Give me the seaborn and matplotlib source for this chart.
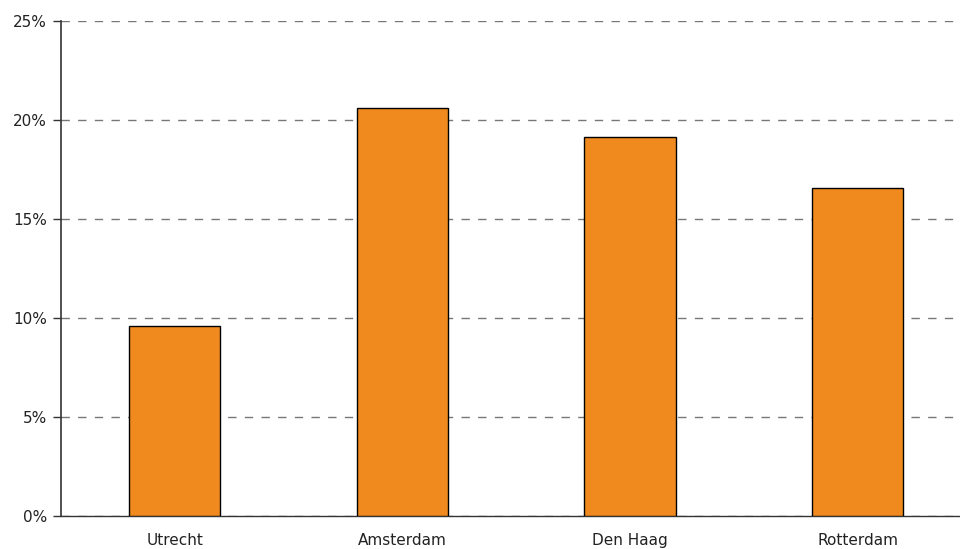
import matplotlib
matplotlib.use("Agg")
import matplotlib.pyplot as plt
import seaborn as sns
import pandas as pd
from matplotlib.ticker import FuncFormatter

cities = ["Utrecht", "Amsterdam", "Den Haag", "Rotterdam"]
share_pct = [9.6, 20.6, 19.15, 16.55]
y_ticks = [0, 5, 10, 15, 20, 25]

df = pd.DataFrame({"city": cities, "share": share_pct})

sns.set_theme(style="white")
plt.rcParams["font.family"] = ["DejaVu Sans"]

fig = plt.figure(figsize=(9.6, 5.49), dpi=100)
ax = fig.add_axes([61 / 960, 1 - 516 / 549, 1 - 61 / 960, (516 - 21) / 549])

sns.barplot(data=df, x="city", y="share", color="#F0891E", saturation=1,
            width=0.4, edgecolor="black", linewidth=1, ax=ax, zorder=3)

ax.set_ylim(0, 25)
ax.set_xlim(-0.5, 3.45)
ax.set_yticks(y_ticks)
ax.yaxis.set_major_formatter(FuncFormatter(lambda v, _: f"{v:.0f}%"))
ax.grid(axis="y", color="#777777", linestyle=(0, (6, 6)), linewidth=1, zorder=0)
ax.set_xlabel("")
ax.set_ylabel("")

for side in ["top", "right"]:
    ax.spines[side].set_visible(False)
ax.spines["left"].set_color("#333333")
ax.spines["left"].set_linewidth(1.2)
ax.spines["bottom"].set_color("#333333")
ax.spines["bottom"].set_linewidth(1)

ax.tick_params(axis="y", left=True, length=6, width=1, color="#333333",
               labelsize=11, labelcolor="#222222", pad=4)
ax.tick_params(axis="x", bottom=False, labelsize=11, labelcolor="#222222", pad=6)

fig.savefig("out.png", dpi=100)
